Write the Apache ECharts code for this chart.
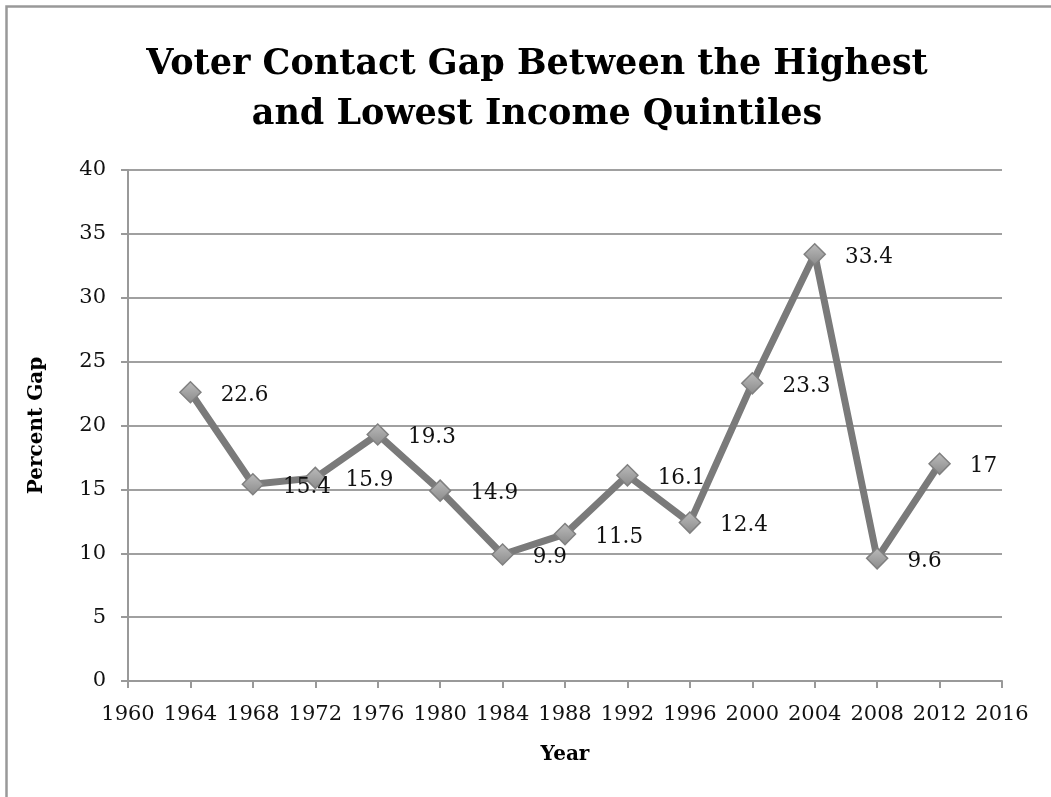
<!DOCTYPE html>
<html>
<head>
<meta charset="utf-8">
<script src="https://cdn.jsdelivr.net/npm/echarts@6/dist/echarts.min.js"></script>
<style>html,body{margin:0;padding:0;background:#fff;}#c{width:1051px;height:797px;}</style>
</head>
<body>
<div id="c"></div>
<script>
const years = [1964, 1968, 1972, 1976, 1980, 1984, 1988, 1992, 1996, 2000, 2004, 2008, 2012];
const gapValues = [22.6, 15.4, 15.9, 19.3, 14.9, 9.9, 11.5, 16.1, 12.4, 23.3, 33.4, 9.6, 17];
const titleText = 'Voter Contact Gap Between the Highest\nand Lowest Income Quintiles';
const xName = 'Year';
const yName = 'Percent Gap';

const serif = '"DejaVu Serif", serif';
const chart = echarts.init(document.getElementById('c'));
chart.setOption({
  animation: false,
  backgroundColor: '#fff',
  title: {
    text: titleText,
    left: 532, top: 35, textAlign: 'center',
    textStyle: { fontFamily: serif, fontWeight: 'bold', fontSize: 35, lineHeight: 50, color: '#000' }
  },
  graphic: [{
    type: 'rect', silent: true,
    shape: { x: 6.5, y: 6.5, width: 2000, height: 2000 },
    style: { fill: 'none', stroke: '#999', lineWidth: 2.5 }
  }],
  grid: { left: 128, right: 49, top: 170, bottom: 116, containLabel: false },
  xAxis: {
    type: 'value', min: 1960, max: 2016, interval: 4,
    name: xName, nameLocation: 'middle', nameGap: 64,
    nameTextStyle: { fontFamily: serif, fontWeight: 'bold', fontSize: 20, color: '#000' },
    axisLine: { show: true, lineStyle: { color: '#999', width: 2 } },
    axisTick: { show: true, length: 7, lineStyle: { color: '#999', width: 2 } },
    axisLabel: { fontFamily: serif, fontSize: 21, color: '#111', margin: 23, formatter: v => String(v) },
    splitLine: { show: false }
  },
  yAxis: {
    type: 'value', min: 0, max: 40, interval: 5,
    name: yName, nameLocation: 'middle', nameGap: 81, nameRotate: 90,
    nameTextStyle: { fontFamily: serif, fontWeight: 'bold', fontSize: 20, color: '#000' },
    axisLine: { show: true, lineStyle: { color: '#999', width: 2 } },
    axisTick: { show: true, inside: false, length: 7, lineStyle: { color: '#999', width: 2 } },
    axisLabel: { fontFamily: serif, fontSize: 21, color: '#111', margin: 22 },
    splitLine: { show: true, lineStyle: { color: '#a0a0a0', width: 2 } }
  },
  series: [{
    type: 'line',
    data: years.map((y, i) => [y, gapValues[i]]),
    lineStyle: { color: '#7a7a7a', width: 7 },
    symbol: 'diamond', symbolSize: 21,
    itemStyle: {
      color: new echarts.graphic.LinearGradient(0, 0, 0, 1, [
        { offset: 0, color: '#bcbcbc' }, { offset: 1, color: '#8a8a8a' }
      ]),
      borderColor: '#808080', borderWidth: 1.5
    },
    label: {
      show: true, position: 'right', distance: 19, offset: [0, 3],
      fontFamily: serif, fontSize: 21.5, color: '#111',
      formatter: p => String(p.value[1])
    },
    z: 3
  }]
});
</script>
</body>
</html>
